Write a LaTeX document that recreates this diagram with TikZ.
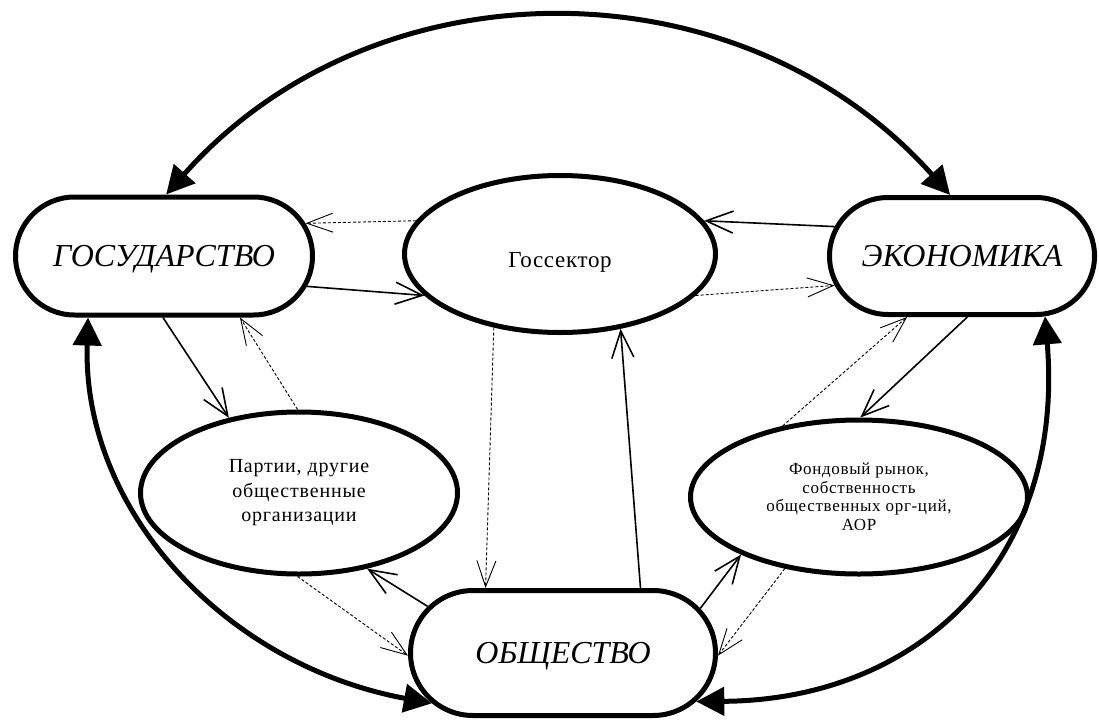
\documentclass[tikz,border=0pt]{standalone}
\usepackage{fontspec}
\setmainfont{Liberation Serif}
\usetikzlibrary{arrows.meta,shapes.geometric,shapes.misc}
\newcommand{\uzko}[1]{\makebox[0pt]{#1}}

\begin{document}
\begin{tikzpicture}[x=1pt,y=-1pt,
  sfera/.style={draw,line width=5pt,rounded rectangle,inner sep=0pt,text depth=0pt,
    font=\fontsize{32}{36}\selectfont\itshape},
  oval/.style={draw,line width=5pt,ellipse,inner sep=0pt,align=center},
  potok/.style={line width=1.6pt,-{Straight Barb[length=27pt,width=22pt]}},
  svyaz/.style={line width=0.9pt,dash pattern=on 3pt off 2pt,
    -{Straight Barb[length=26pt,width=19pt]}},
  duga/.style={line width=5pt,
    {Triangle[length=28pt,width=28pt]}-{Triangle[length=28pt,width=28pt]}}]
  \useasboundingbox (0,0) rectangle (1099,720);
  % sectors
  \node[sfera,minimum width=297pt,minimum height=118pt] (gos) at (164,256) {\uzko{ГОСУДАРСТВО}};
  \node[sfera,minimum width=265pt,minimum height=117pt] (eko) at (962,256) {\uzko{ЭКОНОМИКА}};
  \node[sfera,minimum width=305pt,minimum height=125pt] (obs) at (563,653) {\uzko{ОБЩЕСТВО}};
  \node[oval,minimum width=311pt,minimum height=157pt,text height=26pt,text depth=0pt,
    font=\fontsize{23}{26}\selectfont\addfontfeature{LetterSpace=3}] (sek) at (560,254) {Госсектор};
  \node[oval,minimum width=317pt,minimum height=162pt,
    font=\fontsize{20}{24.5}\selectfont\addfontfeature{LetterSpace=4}] (par) at (299,493)
    {Партии, другие\\общественные\\организации};
  \node[oval,minimum width=337pt,minimum height=154pt,
    font=\fontsize{17}{18.5}\selectfont\addfontfeature{LetterSpace=4}] (fond) at (859,497)
    {Фондовый рынок,\\собственность\\общественных орг-ций,\\АОР};
  % big links
  \draw[duga] (gos.88) .. controls (375,-41) and (741,-40) .. (eko.101);
  \draw[duga] (gos.-141) .. controls (82,510) and (225,665) .. (obs.201);
  \draw[duga] (eko.-36) .. controls (1065,560) and (920,700) .. (obs.-20);
  % flows
  \draw[potok] (gos.-12.6) -- (sek.197);
  \draw[svyaz] (sek.167) -- (gos.13);
  \draw[potok] (eko.167) -- (sek.13.4);
  \draw[svyaz] (sek.-17) -- (eko.193);
  \draw[potok] (gos.-91) -- (par.133);
  \draw[svyaz] (par.91) -- (gos.-39);
  \draw[svyaz] (sek.-132) -- (obs.140);
  \draw[potok] (obs.40) -- (sek.-51);
  \draw[potok] (obs.161) -- (par.-48);
  \draw[svyaz] (par.-91) -- (obs.181);
  \draw[potok] (obs.18) -- (fond.206);
  \draw[svyaz] (fond.-136) -- (obs.-1);
  \draw[potok] (eko.-85.5) -- (fond.89);
  \draw[svyaz] (fond.137) -- (eko.-132);
\end{tikzpicture}
\end{document}
